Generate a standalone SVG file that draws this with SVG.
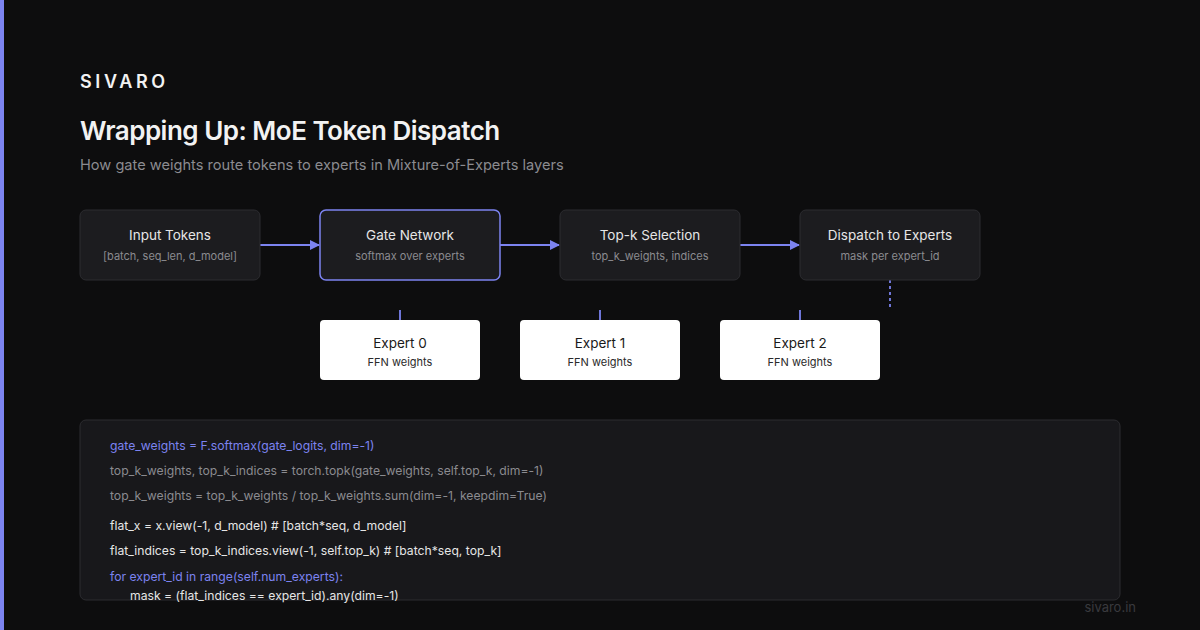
<svg xmlns="http://www.w3.org/2000/svg" width="1200" height="630" viewBox="0 0 1200 630">
<defs>
<marker id="arr" markerWidth="10" markerHeight="10" refX="9" refY="5" orient="auto" markerUnits="userSpaceOnUse">
<path d="M0,0 L10,5 L0,10 z" fill="#7c83f0"/>
</marker>
<style>
text{font-family:Inter,"Liberation Sans",sans-serif}
.node{fill:#1c1c1f;stroke:#2c2c30;stroke-width:1}
.hl{stroke:#7c83f0;stroke-width:1.5}
.t{font-size:13.5px;fill:#e6e6e6;text-anchor:middle}
.s{font-size:11px;fill:#8b8b90;text-anchor:middle}
.ex{fill:#ffffff}
.et{font-size:13.5px;fill:#1a1a1a;text-anchor:middle}
.es{font-size:11px;fill:#2a2a2a;text-anchor:middle}
.edge{stroke:#7c83f0;stroke-width:2;fill:none}
.stub{stroke:#6f76d8;stroke-width:2;fill:none}
.code{font-size:12.2px}
.cp{fill:#7c83f0}
.cg{fill:#8b8b90}
.cw{fill:#e6e6e6}
</style>
</defs>
<rect width="1200" height="630" fill="#0d0d0e"/>
<rect x="0" y="0" width="4" height="630" fill="#7c83f0"/>
<text x="80" y="88" font-size="18" font-weight="600" fill="#f2f2f2" letter-spacing="3.6">SIVARO</text>
<text x="80" y="140" font-size="26" font-weight="600" fill="#f2f2f2" letter-spacing="-0.5">Wrapping Up: MoE Token Dispatch</text>
<text x="80" y="170" font-size="14.6" fill="#8b8b90">How gate weights route tokens to experts in Mixture-of-Experts layers</text>

<g id="connectors">
<line class="edge" x1="260" y1="245" x2="319" y2="245" marker-end="url(#arr)"/>
<line class="edge" x1="500" y1="245" x2="559" y2="245" marker-end="url(#arr)"/>
<line class="edge" x1="740" y1="245" x2="799" y2="245" marker-end="url(#arr)"/>
<line class="stub" x1="400" y1="310" x2="400" y2="320"/>
<line class="stub" x1="600" y1="310" x2="600" y2="320"/>
<line class="stub" x1="800" y1="310" x2="800" y2="320"/>
<line class="stub" x1="890" y1="280" x2="890" y2="310" stroke-dasharray="3,3"/>
</g>

<g id="node-input">
<rect class="node" x="80" y="210" width="180" height="70" rx="6"/>
<text class="t" x="170" y="240">Input Tokens</text>
<text class="s" x="170" y="260">[batch, seq_len, d_model]</text>
</g>
<g id="node-gate">
<rect class="node hl" x="320" y="210" width="180" height="70" rx="6"/>
<text class="t" x="410" y="240">Gate Network</text>
<text class="s" x="410" y="260">softmax over experts</text>
</g>
<g id="node-topk">
<rect class="node" x="560" y="210" width="180" height="70" rx="6"/>
<text class="t" x="650" y="240">Top-k Selection</text>
<text class="s" x="650" y="260">top_k_weights, indices</text>
</g>
<g id="node-dispatch">
<rect class="node" x="800" y="210" width="180" height="70" rx="6"/>
<text class="t" x="890" y="240">Dispatch to Experts</text>
<text class="s" x="890" y="260">mask per expert_id</text>
</g>
<g id="node-expert0">
<rect class="ex" x="320" y="320" width="160" height="60" rx="4"/>
<text class="et" x="400" y="348">Expert 0</text>
<text class="es" x="400" y="366">FFN weights</text>
</g>
<g id="node-expert1">
<rect class="ex" x="520" y="320" width="160" height="60" rx="4"/>
<text class="et" x="600" y="348">Expert 1</text>
<text class="es" x="600" y="366">FFN weights</text>
</g>
<g id="node-expert2">
<rect class="ex" x="720" y="320" width="160" height="60" rx="4"/>
<text class="et" x="800" y="348">Expert 2</text>
<text class="es" x="800" y="366">FFN weights</text>
</g>

<g id="code">
<rect x="80" y="420" width="1040" height="180" rx="6" fill="#18181b" stroke="#2c2c30" stroke-width="1"/>
<text class="code cp" x="110" y="450">gate_weights = F.softmax(gate_logits, dim=-1)</text>
<text class="code cg" x="110" y="475">top_k_weights, top_k_indices = torch.topk(gate_weights, self.top_k, dim=-1)</text>
<text class="code cg" x="110" y="500">top_k_weights = top_k_weights / top_k_weights.sum(dim=-1, keepdim=True)</text>
<text class="code cw" x="110" y="530">flat_x = x.view(-1, d_model) # [batch*seq, d_model]</text>
<text class="code cw" x="110" y="555">flat_indices = top_k_indices.view(-1, self.top_k) # [batch*seq, top_k]</text>
<text class="code cp" x="110" y="581">for expert_id in range(self.num_experts):</text>
<text class="code cw" x="130" y="600">mask = (flat_indices == expert_id).any(dim=-1)</text>
</g>
<text x="1136" y="612" font-size="13" fill="#3a3a3e" text-anchor="end">sivaro.in</text>
</svg>
